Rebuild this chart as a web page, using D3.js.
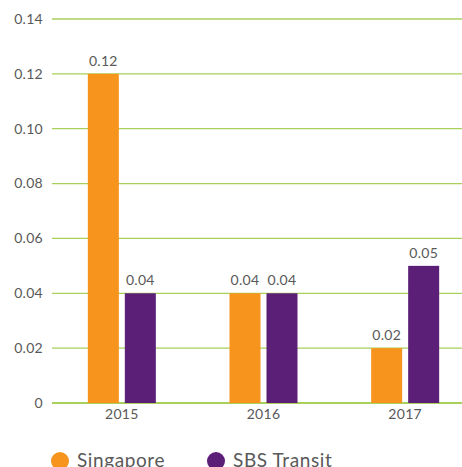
<!DOCTYPE html>
<html>
<head>
<meta charset="utf-8">
<script src="https://cdn.jsdelivr.net/npm/d3@7"></script>
<style>
  body { margin: 0; background: #fff; }
  svg { display: block; font-family: Lato, "Noto Sans", sans-serif; }
</style>
</head>
<body>
<svg id="chart" width="462" height="467"></svg>
<script>
const years = ['2015', '2016', '2017']
const seriesNames = ['Singapore', 'SBS Transit']
const singapore = [0.12, 0.04, 0.02]
const sbsTransit = [0.04, 0.04, 0.05]
const yTicks = [0, 0.02, 0.04, 0.06, 0.08, 0.10, 0.12, 0.14]
const colors = ['#F7941D', '#5C1F78']

const svg = d3.select('#chart')
const plotLeft = 52, plotRight = 462, plotTop = 19, plotBottom = 403

const y = d3.scaleLinear().domain([0, 0.14]).range([plotBottom, plotTop])
const x0 = d3.scalePoint().domain(years).range([51, 476]).padding(0.5)
const x1 = d3.scaleBand().domain(seriesNames).range([-34, 34]).paddingInner(0.162)

// gridlines
svg.append('g')
  .selectAll('line')
  .data(yTicks)
  .join('line')
  .attr('x1', plotLeft)
  .attr('x2', plotRight)
  .attr('y1', d => y(d))
  .attr('y2', d => y(d))
  .attr('stroke', '#A8D05A')
  .attr('stroke-width', d => d === 0 ? 2 : 1.3)

// y labels
svg.append('g')
  .selectAll('text')
  .data(yTicks)
  .join('text')
  .attr('x', 43)
  .attr('y', d => y(d))
  .attr('dy', '0.35em')
  .attr('text-anchor', 'end')
  .attr('fill', '#595959')
  .style('font-size', '14px')
  .style('letter-spacing', '0.3px')
  .text(d => d === 0 ? '0' : d.toFixed(2))

const data = years.map((yr, i) => ({
  year: yr,
  values: [singapore[i], sbsTransit[i]]
}))

const groups = svg.append('g')
  .selectAll('g')
  .data(data)
  .join('g')
  .attr('transform', d => 'translate(' + x0(d.year) + ',0)')

groups.selectAll('rect')
  .data(d => d.values.map((v, j) => ({ name: seriesNames[j], v: v, c: colors[j] })))
  .join('rect')
  .attr('x', d => x1(d.name))
  .attr('width', x1.bandwidth())
  .attr('y', d => y(d.v))
  .attr('height', d => plotBottom - y(d.v))
  .attr('fill', d => d.c)

groups.selectAll('text.val')
  .data(d => d.values.map((v, j) => ({ name: seriesNames[j], v: v })))
  .join('text')
  .attr('class', 'val')
  .attr('x', d => x1(d.name) + x1.bandwidth() / 2)
  .attr('y', d => y(d.v) - 8)
  .attr('text-anchor', 'middle')
  .attr('fill', '#595959')
  .style('font-size', '14px')
  .style('letter-spacing', '0.3px')
  .text(d => d.v.toFixed(2))

// x labels
svg.append('g')
  .selectAll('text')
  .data(years)
  .join('text')
  .attr('x', d => x0(d))
  .attr('y', 419)
  .attr('text-anchor', 'middle')
  .attr('fill', '#595959')
  .style('font-size', '14px')
  .style('letter-spacing', '0.3px')
  .text(d => d)

// legend
const legendX = [60, 216]
const legend = svg.append('g')
  .selectAll('g')
  .data(seriesNames)
  .join('g')
  .attr('transform', (d, i) => 'translate(' + legendX[i] + ',461)')

legend.append('circle')
  .attr('r', 9)
  .attr('fill', (d, i) => colors[i])

legend.append('text')
  .attr('x', 17)
  .attr('y', 6)
  .attr('fill', '#595959')
  .style('font-size', '19px')
  .style('letter-spacing', '0.6px')
  .text(d => d)
</script>
</body>
</html>
